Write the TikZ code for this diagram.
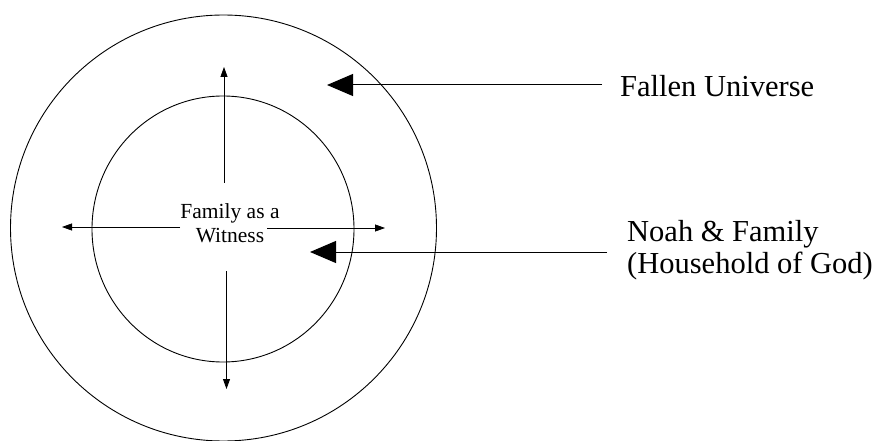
\documentclass[tikz,border=0pt]{standalone}
\usepackage{fontspec}
\setmainfont{Liberation Serif}
\usetikzlibrary{arrows.meta}
\begin{document}
\begin{tikzpicture}[x=1pt,y=-1pt,
  ring/.style={draw=black,line width=0.9pt},
  smallarrow/.style={draw=black,line width=0.8pt,-{Triangle[length=10pt,width=7pt]}},
  bigarrow/.style={draw=black,line width=1pt,-{Triangle[length=26pt,width=22pt]}},
  bigtext/.style={font=\fontsize{30.5}{32}\selectfont,inner sep=0pt},
  midtext/.style={font=\fontsize{21.5}{24}\selectfont,inner sep=0pt,align=center}]
\useasboundingbox (0,0) rectangle (887,441);
\fill[white] (0,0) rectangle (887,441);
% circles
\draw[ring] (223.5,228) circle [radius=213];
\draw[ring] (223,229) ellipse [x radius=131, y radius=133];
% center text (base = baseline of last line)
\node[midtext,anchor=base] (fam) at (230,242) {Family as a\\Witness};
% arrow end points
\coordinate (upS) at (224,183);
\coordinate (upE) at (224,67);
\coordinate (dnS) at (226.5,271);
\coordinate (dnE) at (226.5,389);
\coordinate (lfS) at (180,227);
\coordinate (lfE) at (62,227);
\coordinate (rtS) at (267,228);
\coordinate (rtE) at (385,228);
\draw[smallarrow] (upS) -- (upE);
\draw[smallarrow] (dnS) -- (dnE);
\draw[smallarrow] (lfS) -- (lfE);
\draw[smallarrow] (rtS) -- (rtE);
% labels
\node[bigtext,anchor=base west] (fallen) at (620,97) {Fallen Universe};
\node[bigtext,anchor=base west,align=left] (noah) at (627,273) {Noah \& Family\\(Household of God)};
\coordinate (fallenTip) at (327,85);
\coordinate (noahTip) at (310,252);
\draw[bigarrow] (fallen.west |- fallenTip) ++(-18,0) coordinate (fallenS) -- (fallenTip);
\draw[bigarrow] (noah.west |- noahTip) ++(-20,0) coordinate (noahS) -- (noahTip);
\end{tikzpicture}
\end{document}
